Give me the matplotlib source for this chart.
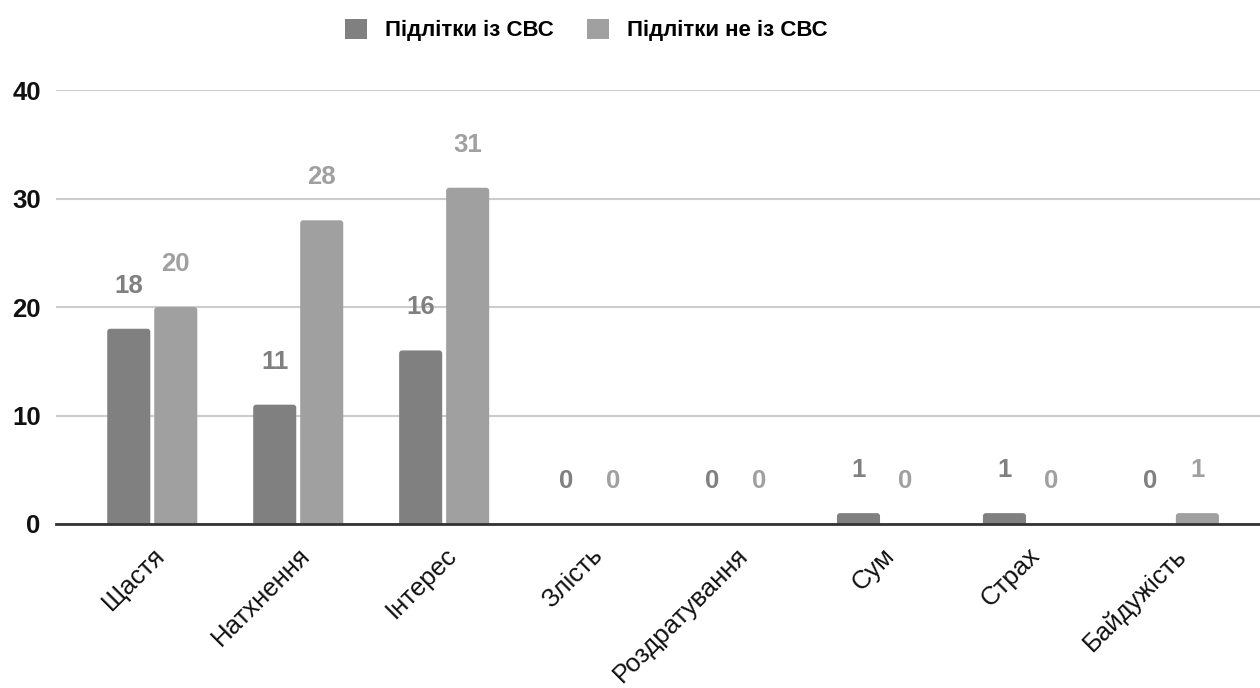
import matplotlib
matplotlib.use("Agg")
import matplotlib.pyplot as plt
from matplotlib.patches import FancyBboxPatch, Patch
import numpy as np

categories = ["Щастя", "Натхнення", "Інтерес", "Злість", "Роздратування", "Сум", "Страх", "Байдужість"]
series_names = ["Підлітки із СВС", "Підлітки не із СВС"]
with_svs = [18, 11, 16, 0, 0, 1, 1, 0]
without_svs = [20, 28, 31, 0, 0, 0, 0, 1]
y_ticks = [0, 10, 20, 30, 40]

colors = ["#808080", "#a0a0a0"]
plt.rcParams["font.family"] = ["Liberation Sans", "DejaVu Sans"]

W, H = 1260, 688
fig = plt.figure(figsize=(W / 100, H / 100), dpi=100)
ax_rect = [0.0444, 0.2384, 0.9556, 0.869 - 0.2384]
ax = fig.add_axes(ax_rect)

xlim = (-0.66, 7.59)
ylim = (0, 40)
ax.set_xlim(*xlim)
ax.set_ylim(*ylim)

# pixels per data unit, used to keep corner rounding circular
px_x = ax_rect[2] * W / (xlim[1] - xlim[0])
px_y = ax_rect[3] * H / (ylim[1] - ylim[0])
radius_px = 3.0

x = np.arange(len(categories))
w = 0.295
off = 0.161
for vals, dx, c in [(with_svs, -off, colors[0]), (without_svs, off, colors[1])]:
    for xi, v in zip(x + dx, vals):
        if v > 0:
            base = -1.0
            box = FancyBboxPatch((xi - w / 2, base), w, v - base,
                                 boxstyle=f"round,pad=0,rounding_size={radius_px / px_x}",
                                 mutation_aspect=px_x / px_y,
                                 facecolor=c, edgecolor="none", zorder=3)
            ax.add_patch(box)
        ax.annotate(str(v), (xi, v), xytext=(0, 31), textcoords="offset points",
                    ha="center", va="center", fontsize=18.5, fontweight="bold",
                    color=c, zorder=4)

ax.set_yticks(y_ticks)
ax.set_yticklabels([str(t) for t in y_ticks], fontsize=18.5, fontweight="bold", color="#111111")
ax.set_xticks(x)
ax.set_xticklabels(categories, rotation=45, ha="right", rotation_mode="anchor",
                   fontsize=18.5, color="#111111")
ax.tick_params(axis="both", length=0)
ax.tick_params(axis="y", pad=11)
ax.tick_params(axis="x", pad=14)

ax.grid(axis="y", color="#cccccc", linewidth=1.5, zorder=0)
for s in ["top", "right", "left"]:
    ax.spines[s].set_visible(False)
ax.spines["bottom"].set_color("#333333")
ax.spines["bottom"].set_linewidth(2)
ax.spines["bottom"].set_zorder(5)

handles = [Patch(facecolor=c, edgecolor="none") for c in colors]
fig.legend(handles, series_names, loc="center", bbox_to_anchor=(0.465, 1 - 30 / H), ncol=2,
           frameon=False, prop={"size": 16, "weight": "bold"}, handlelength=1.0,
           handleheight=1.0, columnspacing=1.5, handletextpad=0.8)

fig.savefig("out.png", dpi=100, facecolor="white")
